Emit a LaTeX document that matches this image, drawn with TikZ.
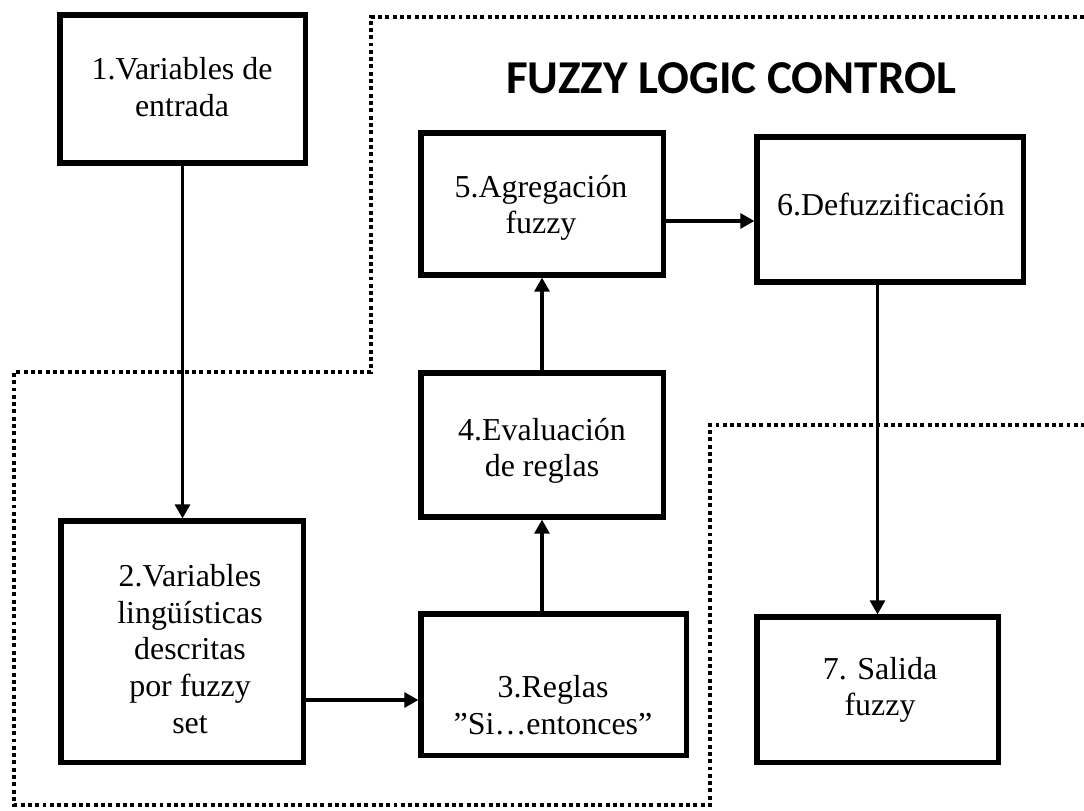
\documentclass[tikz,border=0pt]{standalone}
\usepackage{fontspec}
\setmainfont{Liberation Serif}
\newfontfamily\titlefont{Carlito}
\usetikzlibrary{arrows.meta,shadows}

\def\fuzzyzone{(1084,17) -- (371,17) -- (371,372) -- (14,372) -- (14,805) -- (710,805) -- (710,425) -- (1084,425)}

\tikzset{
  box/.style={draw, fill=white, line width=3.6pt, rectangle,
    drop shadow={opacity=0.18, shadow xshift=0.6pt, shadow yshift=-2.2pt}},
  txt/.style={align=center, font=\fontsize{22.7}{26}\selectfont, inner sep=0pt},
  arr/.style={line width=2.8pt, -{Triangle[length=10pt,width=10.5pt]}},
  zone/.style={line width=2.8pt, dash pattern=on 2.8pt off 2.4pt}
}

\begin{document}
\begin{tikzpicture}[x=0.025cm, y=-0.025cm]
                  \useasboundingbox (0,0) rectangle (1084,810);
                  \draw[zone] \fuzzyzone;
                  \node[font=\titlefont\bfseries\fontsize{33.5}{36}\selectfont] (title) at (731,78) {FUZZY LOGIC CONTROL};
                  % cajas
                  \node[box, minimum width=6.125cm, minimum height=3.7cm] (b1) at (182.5,89) {};
                  \node[box, minimum width=6.05cm, minimum height=6.025cm] (b2) at (182,641.5) {};
                  \node[box, minimum width=6.625cm, minimum height=3.525cm] (b3) at (553.5,684.5) {};
                  \node[box, minimum width=6.05cm, minimum height=3.6cm] (b4) at (542,445) {};
                  \node[box, minimum width=6.05cm, minimum height=3.55cm] (b5) at (542,204) {};
                  \node[box, minimum width=6.65cm, minimum height=3.625cm] (b6) at (890,209.5) {};
                  \node[box, minimum width=6.025cm, minimum height=3.625cm] (b7) at (877.5,689.5) {};
                  % textos
                  \node[txt] (t1) at (182,87) {1.Variables de\\entrada};
                  \node[txt] (t2) at (190,649) {2.Variables\\lingüísticas\\descritas\\por fuzzy\\set};
                  \node[txt] (t3) at (553,705) {3.Reglas\\”Si…entonces”};
                  \node[txt] (t4) at (542,451) {4.Evaluación\\de reglas};
                  \node[txt] (t5) at (541,208) {5.Agregación\\fuzzy};
                  \node[txt] (t6) at (891,204) {6.Defuzzificación};
                  \node[txt] (t7) at (880,690) {7. Salida\\fuzzy};
                  % flechas
                  \coordinate (a23) at ([yshift=-0.3875cm]b3.west);
                  \coordinate (a56) at ([yshift=-0.425cm]b5.east);
                  \draw[arr] (b1.south) -- (b1.south |- b2.north);
                  \draw[arr] (a23 -| b2.east) -- (a23);
                  \draw[arr] (b4.south |- b3.north) -- (b4.south);
                  \draw[arr] (b4.north) -- (b5.south);
                  \draw[arr] (a56) -- (a56 -| b6.west);
                  \draw[arr] (b7.north |- b6.south) -- (b7.north);
                \end{tikzpicture}
\end{document}
